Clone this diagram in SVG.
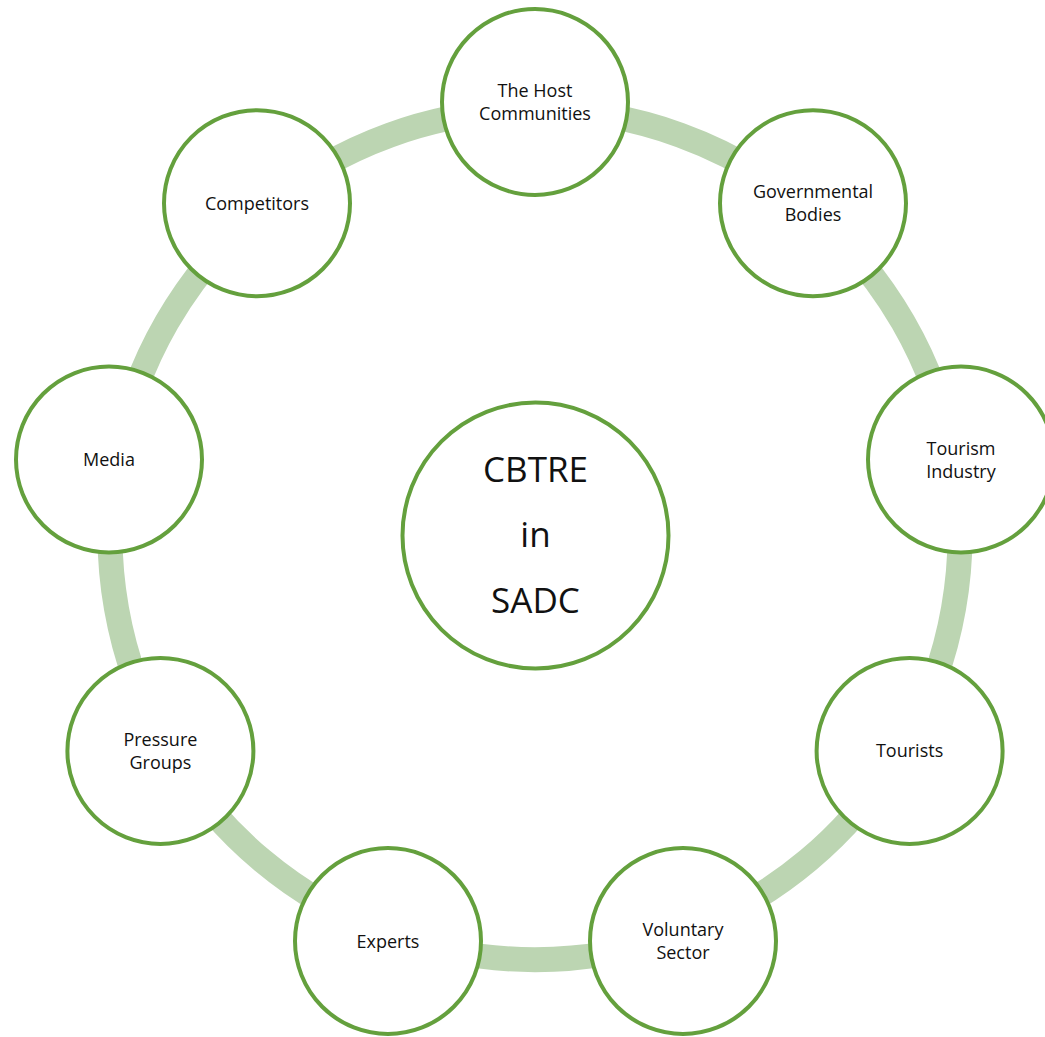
<svg xmlns="http://www.w3.org/2000/svg" width="1045" height="1037" viewBox="0 0 1045 1037">
<style>
.ring{fill:none;stroke:#BCD5B2;stroke-width:25}
.node{fill:#FFFFFF;stroke:#64A03D;stroke-width:4}
.lbl{font-family:"Open Sans","Noto Sans","Liberation Sans",sans-serif;font-size:18px;fill:#111;text-anchor:middle}
.big{font-family:"Open Sans","Noto Sans","Liberation Sans",sans-serif;font-size:35px;fill:#111;text-anchor:middle}
</style>
<rect width="1045" height="1037" fill="#FFFFFF"/>
<g id="connectors">
<path class="ring" d="M535 109.6 A425 425 0 0 1 808.2 209.0"/>
<path class="ring" d="M808.2 209.0 A425 425 0 0 1 953.5 460.8"/>
<path class="ring" d="M953.5 460.8 A425 425 0 0 1 903.1 747.1"/>
<path class="ring" d="M903.1 747.1 A425 425 0 0 1 680.4 934.0"/>
<path class="ring" d="M680.4 934.0 A425 425 0 0 1 389.6 934.0"/>
<path class="ring" d="M389.6 934.0 A425 425 0 0 1 166.9 747.1"/>
<path class="ring" d="M166.9 747.1 A425 425 0 0 1 116.5 460.8"/>
<path class="ring" d="M116.5 460.8 A425 425 0 0 1 261.8 209.0"/>
<path class="ring" d="M261.8 209.0 A425 425 0 0 1 535 109.6"/>
</g>
<g id="center">
<circle class="node" cx="535.5" cy="535.5" r="133"/>
<text class="big" x="535.5" y="481.5">CBTRE</text>
<text class="big" x="535.5" y="547">in</text>
<text class="big" x="535.5" y="612.5">SADC</text>
</g>
<g id="host-communities">
<circle class="node" cx="535" cy="102" r="93"/>
<text class="lbl" x="535" y="97">The Host</text>
<text class="lbl" x="535" y="120">Communities</text>
</g>
<g id="governmental-bodies">
<circle class="node" cx="813" cy="203.2" r="93"/>
<text class="lbl" x="813" y="198.2">Governmental</text>
<text class="lbl" x="813" y="221.2">Bodies</text>
</g>
<g id="tourism-industry">
<circle class="node" cx="961" cy="459.5" r="93"/>
<text class="lbl" x="961" y="454.5">Tourism</text>
<text class="lbl" x="961" y="477.5">Industry</text>
</g>
<g id="tourists">
<circle class="node" cx="909.6" cy="750.9" r="93"/>
<text class="lbl" x="909.6" y="757.4">Tourists</text>
</g>
<g id="voluntary-sector">
<circle class="node" cx="683" cy="941" r="93"/>
<text class="lbl" x="683" y="936">Voluntary</text>
<text class="lbl" x="683" y="959">Sector</text>
</g>
<g id="experts">
<circle class="node" cx="388" cy="941" r="93"/>
<text class="lbl" x="388" y="947.5">Experts</text>
</g>
<g id="pressure-groups">
<circle class="node" cx="160.4" cy="750.9" r="93"/>
<text class="lbl" x="160.4" y="745.9">Pressure</text>
<text class="lbl" x="160.4" y="768.9">Groups</text>
</g>
<g id="media">
<circle class="node" cx="109" cy="459.5" r="93"/>
<text class="lbl" x="109" y="466">Media</text>
</g>
<g id="competitors">
<circle class="node" cx="257" cy="203.2" r="93"/>
<text class="lbl" x="257" y="209.7">Competitors</text>
</g>
</svg>
